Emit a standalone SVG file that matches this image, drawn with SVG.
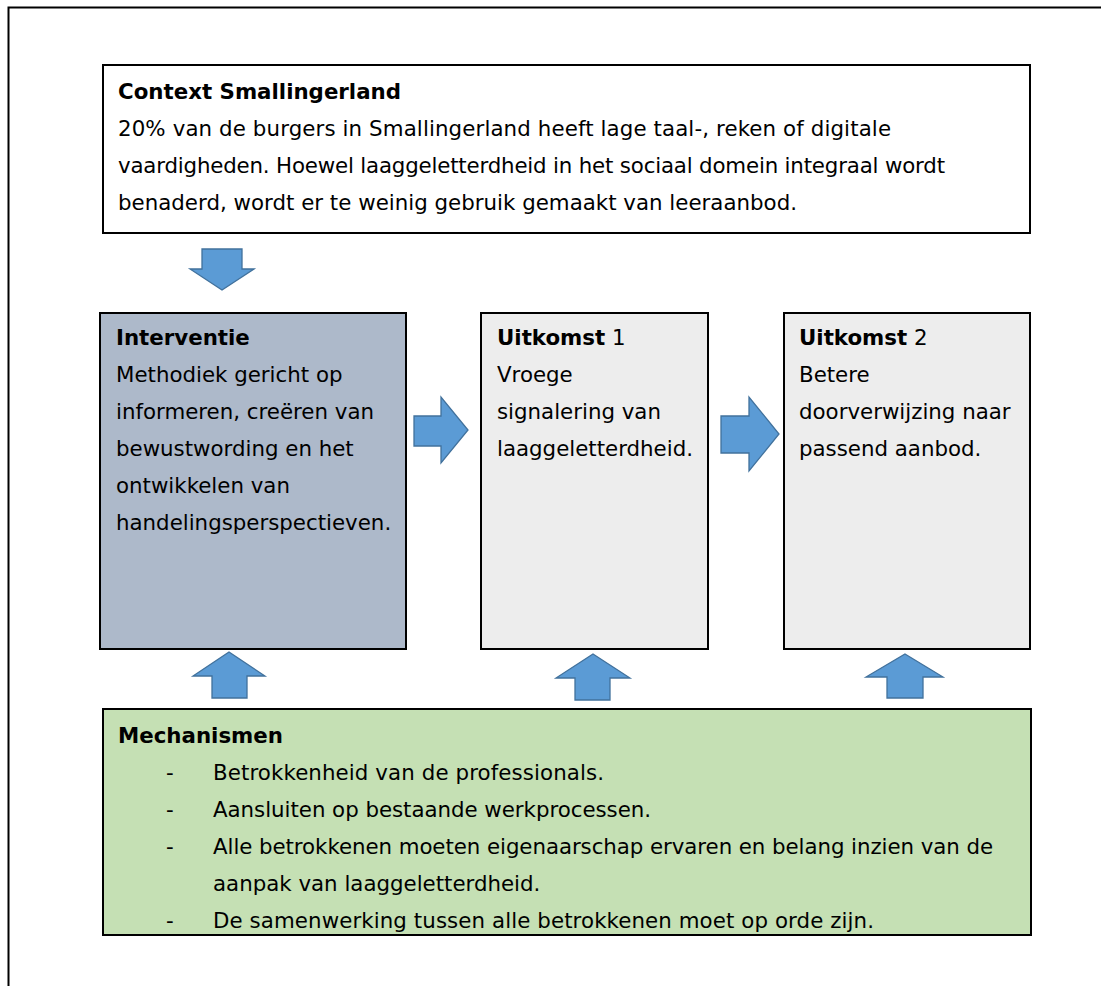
<svg xmlns="http://www.w3.org/2000/svg" width="1101" height="986" viewBox="0 0 1101 986">
  <style>
    .box { stroke: #000; stroke-width: 2; }
    .t { font-family: Verdana, "DejaVu Sans", sans-serif; font-size: 21.33px; fill: #000; }
    .b { font-weight: bold; }
    .arrow { fill: #5B9BD5; stroke: #41719C; stroke-width: 1.3; stroke-linejoin: miter; }
  </style>
  <rect x="0" y="0" width="1101" height="986" fill="#fff"/>
  <path d="M 8.5 986 V 7.5 H 1101" fill="none" stroke="#000" stroke-width="2"/>

  <g id="context">
    <rect class="box" x="103" y="65" width="927" height="168" fill="#fff"/>
    <text class="t b" x="118" y="99">Context Smallingerland</text>
    <text class="t" x="118" y="136" textLength="773" lengthAdjust="spacing">20% van de burgers in Smallingerland heeft lage taal-, reken of digitale</text>
    <text class="t" x="118" y="173" textLength="827" lengthAdjust="spacing">vaardigheden. Hoewel laaggeletterdheid in het sociaal domein integraal wordt</text>
    <text class="t" x="118" y="210" textLength="679" lengthAdjust="spacing">benaderd, wordt er te weinig gebruik gemaakt van leeraanbod.</text>
  </g>

  <g id="interventie">
    <rect class="box" x="100" y="313" width="306" height="336" fill="#ADB9CA"/>
    <text class="t b" x="116" y="345">Interventie</text>
    <text class="t" x="116" y="382">Methodiek gericht op</text>
    <text class="t" x="116" y="419">informeren, creëren van</text>
    <text class="t" x="116" y="456">bewustwording en het</text>
    <text class="t" x="116" y="493">ontwikkelen van</text>
    <text class="t" x="116" y="530">handelingsperspectieven.</text>
  </g>

  <g id="uitkomst1">
    <rect class="box" x="481" y="313" width="227" height="336" fill="#EDEDED"/>
    <text class="t" x="497" y="345"><tspan class="b">Uitkomst</tspan> 1</text>
    <text class="t" x="497" y="382">Vroege</text>
    <text class="t" x="497" y="419">signalering van</text>
    <text class="t" x="497" y="456">laaggeletterdheid.</text>
  </g>

  <g id="uitkomst2">
    <rect class="box" x="784" y="313" width="246" height="336" fill="#EDEDED"/>
    <text class="t" x="799" y="345"><tspan class="b">Uitkomst</tspan> 2</text>
    <text class="t" x="799" y="382">Betere</text>
    <text class="t" x="799" y="419">doorverwijzing naar</text>
    <text class="t" x="799" y="456">passend aanbod.</text>
  </g>

  <g id="mechanismen">
    <rect class="box" x="103" y="709" width="928" height="226" fill="#C5E0B4"/>
    <text class="t b" x="118" y="743">Mechanismen</text>
    <text class="t" x="166" y="780">-</text>
    <text class="t" x="213" y="780" textLength="391" lengthAdjust="spacing">Betrokkenheid van de professionals.</text>
    <text class="t" x="166" y="817">-</text>
    <text class="t" x="213" y="817" textLength="438" lengthAdjust="spacing">Aansluiten op bestaande werkprocessen.</text>
    <text class="t" x="166" y="854">-</text>
    <text class="t" x="213" y="854" textLength="780" lengthAdjust="spacing">Alle betrokkenen moeten eigenaarschap ervaren en belang inzien van de</text>
    <text class="t" x="213" y="891">aanpak van laaggeletterdheid.</text>
    <text class="t" x="166" y="928">-</text>
    <text class="t" x="213" y="928" textLength="661" lengthAdjust="spacing">De samenwerking tussen alle betrokkenen moet op orde zijn.</text>
  </g>

  <g id="connectors">
    <polygon class="arrow" points="202,249 242,249 242,269 254,269 222,290 190,269 202,269"/>
    <polygon class="arrow" points="414,416 441,416 441,397 468,430 441,463 441,446 414,446"/>
    <polygon class="arrow" points="721,416 749,416 749,397 779,434 749,471 749,453 721,453"/>
    <polygon class="arrow" points="229,652 265,676 247,676 247,698 212,698 212,676 193,676"/>
    <polygon class="arrow" points="593,654 630,678 610,678 610,700 575,700 575,678 556,678"/>
    <polygon class="arrow" points="905,654 943,677 923,677 923,698 887,698 887,677 866,677"/>
  </g>
</svg>
